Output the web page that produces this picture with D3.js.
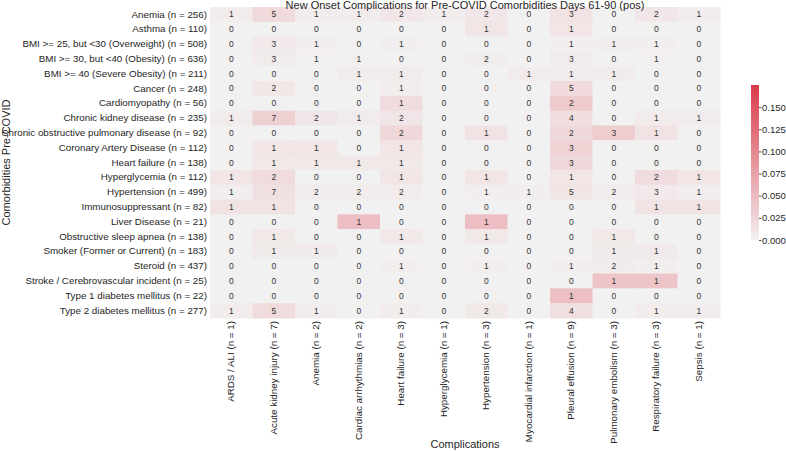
<!DOCTYPE html>
<html><head><meta charset="utf-8">
<script src="https://cdn.jsdelivr.net/npm/d3@7"></script>
<style>body{margin:0;background:#fff;} text{font-family:"Liberation Sans",Arial,sans-serif;}</style>
</head><body><svg id="c" width="786" height="451"></svg>
<script>
const title = "New Onset Complications for Pre-COVID Comorbidities Days 61-90 (pos)";
const rowNames = ["Anemia","Asthma","BMI >= 25, but <30 (Overweight)","BMI >= 30, but <40 (Obesity)","BMI >= 40 (Severe Obesity)","Cancer","Cardiomyopathy","Chronic kidney disease","Chronic obstructive pulmonary disease","Coronary Artery Disease","Heart failure","Hyperglycemia","Hypertension","Immunosuppressant","Liver Disease","Obstructive sleep apnea","Smoker (Former or Current)","Steroid","Stroke / Cerebrovascular incident","Type 1 diabetes mellitus","Type 2 diabetes mellitus"];
const rowN = [256,110,508,636,211,248,56,235,92,112,138,112,499,82,21,138,183,437,25,22,277];
const colNames = ["ARDS / ALI","Acute kidney injury","Anemia","Cardiac arrhythmias","Heart failure","Hyperglycemia","Hypertension","Myocardial infarction","Pleural effusion","Pulmonary embolism","Respiratory failure","Sepsis"];
const colN = [1,7,2,2,3,1,3,1,9,3,3,1];
const counts = [
 [1,5,1,1,2,1,2,0,3,0,2,1],
 [0,0,0,0,0,0,1,0,1,0,0,0],
 [0,3,1,0,1,0,0,0,1,1,1,0],
 [0,3,1,1,0,0,2,0,3,0,1,0],
 [0,0,0,1,1,0,0,1,1,1,0,0],
 [0,2,0,0,1,0,0,0,5,0,0,0],
 [0,0,0,0,1,0,0,0,2,0,0,0],
 [1,7,2,1,2,0,0,0,4,0,1,1],
 [0,0,0,0,2,0,1,0,2,3,1,0],
 [0,1,1,0,1,0,0,0,3,0,0,0],
 [0,1,1,1,1,0,0,0,3,0,0,0],
 [1,2,0,0,1,0,1,0,1,0,2,1],
 [1,7,2,2,2,0,1,1,5,2,3,1],
 [1,1,0,0,0,0,0,0,0,0,1,1],
 [0,0,0,1,0,0,1,0,0,0,0,0],
 [0,1,0,0,1,0,1,0,0,1,0,0],
 [0,1,1,0,0,0,0,0,0,1,1,0],
 [0,0,0,0,1,0,1,0,1,2,1,0],
 [0,0,0,0,0,0,0,0,0,1,1,0],
 [0,0,0,0,0,0,0,0,1,0,0,0],
 [1,5,1,0,1,0,2,0,4,0,1,1]
];
const cbarTicks = [0,0.025,0.05,0.075,0.1,0.125,0.15];
const vmax = 0.175;
</script>
<script>
const rowLabels = rowNames.map((r,i)=>`${r} (n = ${rowN[i]})`);
const colLabels = colNames.map((c,i)=>`${c} (n = ${colN[i]})`);
const svg = d3.select("#c");
const L=210, R=720, T=7, B=318;
const x = d3.scaleBand().domain(colLabels).range([L,R]);
const y = d3.scaleBand().domain(rowLabels).range([T,B]);
const color = d3.scaleLinear().domain([0,0.01,vmax]).range(["#f2f1f1","#f1e4e5","#da3a4a"]).clamp(true);
const FONT = "Liberation Sans, Arial, sans-serif";

const cells=[];
counts.forEach((row,i)=>row.forEach((v,j)=>cells.push({r:rowLabels[i],c:colLabels[j],v,f:v/rowN[i]})));
svg.append("g").selectAll("rect").data(cells).join("rect")
  .attr("x",d=>x(d.c)).attr("y",d=>y(d.r)).attr("width",x.bandwidth()+0.5).attr("height",y.bandwidth()+0.5)
  .attr("fill",d=>color(d.f));
svg.append("g").selectAll("text").data(cells).join("text")
  .attr("x",d=>x(d.c)+x.bandwidth()/2).attr("y",d=>y(d.r)+y.bandwidth()/2)
  .attr("text-anchor","middle").attr("dominant-baseline","central")
  .attr("font-size","8.5px").attr("fill","#333").text(d=>d.v);

// y axis
const ya = svg.append("g").attr("transform",`translate(${L},0)`).call(d3.axisLeft(y).tickSize(0).tickPadding(3));
ya.select(".domain").remove();
ya.selectAll("text").attr("font-size","9.8px").attr("fill","#262626").attr("font-family",FONT);
// x axis
const xa = svg.append("g").attr("transform",`translate(0,${B})`).call(d3.axisBottom(x).tickSize(0).tickPadding(3));
xa.select(".domain").remove();
xa.selectAll("text").attr("font-size","9.8px").attr("fill","#262626").attr("font-family",FONT)
  .attr("transform","rotate(-90)").attr("text-anchor","end").attr("dy","0.32em").attr("dx","-3").attr("y",0).attr("x",0);

// title & axis labels
svg.append("text").attr("x",(L+R)/2).attr("y",8.6).attr("text-anchor","middle").attr("font-size","11px").attr("fill","#262626").text(title);
svg.append("text").attr("x",(L+R)/2).attr("y",448).attr("text-anchor","middle").attr("font-size","11px").attr("fill","#262626").text("Complications");
svg.append("text").attr("transform",`translate(9.5,${(T+B)/2}) rotate(-90)`).attr("text-anchor","middle").attr("font-size","11px").attr("fill","#262626").text("Comorbidities Pre-COVID");

// colorbar
const cbTop = 85, cbBot = 240, cbX = 751, cbW = 8;
const cy = d3.scaleLinear().domain([0,vmax]).range([cbBot,cbTop]);
const defs = svg.append("defs");
const grad = defs.append("linearGradient").attr("id","g").attr("x1",0).attr("y1",1).attr("x2",0).attr("y2",0);
d3.range(0,1.0001,0.05).forEach(t=>grad.append("stop").attr("offset",t).attr("stop-color",color(t*vmax)));
svg.append("rect").attr("x",cbX).attr("y",cbTop).attr("width",cbW).attr("height",cbBot-cbTop).attr("fill","url(#g)");
const ca = svg.append("g").attr("transform",`translate(${cbX+cbW},0)`).call(d3.axisRight(cy).tickValues(cbarTicks).tickFormat(d3.format(".3f")).tickSize(2.5).tickPadding(0.5));
ca.select(".domain").remove();
ca.selectAll("line").attr("stroke","#555");
ca.selectAll("text").attr("font-size","9.5px").attr("fill","#262626").attr("font-family",FONT);
</script>
</body></html>
